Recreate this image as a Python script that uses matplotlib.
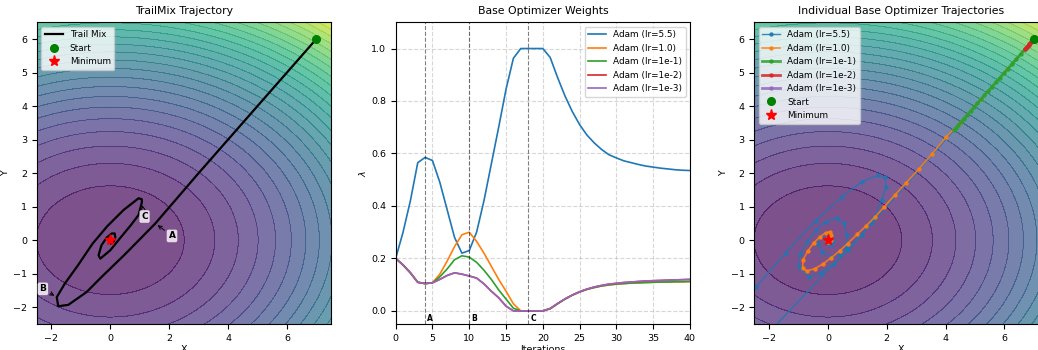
import numpy as np
import matplotlib.pyplot as plt

# objective: f(x, y) = x^2 + 2.4 y^2, minimum at the origin
coef_x, coef_y = 1.0, 2.4
start = (7.0, 6.0)
minimum = (0.0, 0.0)

# TrailMix trajectory (one point per iteration)
trail_x = [7.0, 6.2, 4.8, 3.0, 1.53, 0.5, -0.3, -0.81, -1.43, -1.77, -1.82, -1.55, -1.1, -0.6, -0.1,
           0.45, 0.96, 1.07, 1.07, 0.96, 0.7, 0.35, 0.0, -0.34, -0.4, -0.3, -0.12, 0.05, 0.15, 0.17,
           0.1, 0.02, -0.04, -0.05, -0.02, 0.01, 0.03, 0.02, 0.0, -0.01, 0.0]
trail_y = [6.0, 5.2, 3.8, 2.0, 0.5, -0.42, -1.1, -1.55, -1.93, -1.97, -1.70, -1.3, -0.75, -0.1, 0.42,
           0.9, 1.25, 1.22, 1.12, 0.75, 0.45, 0.08, -0.3, -0.55, -0.45, -0.15, 0.08, 0.2, 0.2, 0.07,
           -0.05, -0.1, -0.06, 0.0, 0.04, 0.04, 0.01, -0.02, -0.01, 0.0, 0.0]
events = {"A": 4, "B": 10, "C": 18}

# weights lambda of each base optimizer per iteration
labels = ["Adam (lr=5.5)", "Adam (lr=1.0)", "Adam (lr=1e-1)", "Adam (lr=1e-2)", "Adam (lr=1e-3)"]
w_55 = [0.2, 0.30, 0.42, 0.565, 0.585, 0.573, 0.49, 0.385, 0.28, 0.22, 0.23, 0.30, 0.42, 0.56, 0.70,
        0.845, 0.963, 1.0, 1.0, 1.0, 1.0, 0.966, 0.89, 0.82, 0.76, 0.71, 0.67, 0.64, 0.615, 0.595,
        0.583, 0.572, 0.565, 0.558, 0.552, 0.548, 0.544, 0.541, 0.538, 0.536, 0.535]
w_1 = [0.2, 0.175, 0.145, 0.109, 0.104, 0.107, 0.14, 0.19, 0.245, 0.29, 0.30, 0.265, 0.22, 0.17, 0.12,
       0.075, 0.027, 0.0, 0.0, 0.0, 0.0, 0.008, 0.027, 0.045, 0.06, 0.072, 0.082, 0.089, 0.095, 0.099,
       0.102, 0.104, 0.106, 0.107, 0.108, 0.109, 0.11, 0.11, 0.111, 0.111, 0.112]
w_1e1 = [0.2, 0.175, 0.145, 0.109, 0.104, 0.107, 0.13, 0.16, 0.195, 0.21, 0.205, 0.185, 0.155, 0.12, 0.08,
         0.045, 0.01, 0.0, 0.0, 0.0, 0.0, 0.008, 0.027, 0.045, 0.06, 0.072, 0.082, 0.089, 0.095, 0.099,
         0.102, 0.104, 0.106, 0.107, 0.108, 0.109, 0.11, 0.11, 0.111, 0.111, 0.112]
w_1e2 = [0.2, 0.175, 0.145, 0.109, 0.104, 0.107, 0.12, 0.135, 0.145, 0.14, 0.133, 0.125, 0.103, 0.075, 0.05,
         0.018, 0.0, 0.0, 0.0, 0.0, 0.0, 0.009, 0.028, 0.045, 0.06, 0.073, 0.083, 0.091, 0.097, 0.102,
         0.105, 0.108, 0.110, 0.112, 0.114, 0.115, 0.116, 0.117, 0.118, 0.119, 0.12]
w_1e3 = list(w_1e2)
weights = [w_55, w_1, w_1e1, w_1e2, w_1e3]

# individual base optimizer trajectories
b55_x = [7.0, 1.5, -4.2, -4.6, -3.5, -2.45, -1.43, -0.42, 0.48, 1.16, 1.69, 1.94, 1.98, 1.83, 1.55, 1.15,
         0.7, 0.2, -0.25, -0.64, -0.98, -0.95, -0.7, -0.4, -0.08, 0.3, 0.55, 0.65, 0.6, 0.4, 0.1, -0.2,
         -0.32, -0.25, -0.05, 0.12, 0.18, 0.1, -0.02, -0.08, -0.02]
b55_y = [6.0, 0.5, -4.8, -3.6, -2.4, -1.4, -0.37, 0.58, 1.30, 1.75, 1.93, 1.88, 1.60, 1.20, 0.65, 0.15,
         -0.3, -0.7, -0.98, -1.1, -0.8, -0.4, -0.05, 0.3, 0.55, 0.65, 0.5, 0.15, -0.2, -0.45, -0.5, -0.35,
         -0.1, 0.12, 0.22, 0.15, -0.02, -0.15, -0.12, 0.0, 0.06]
b1_x = [7.0, 6.1, 5.2, 4.5, 4.02, 3.55, 3.10, 2.67, 2.28, 1.92, 1.61, 1.29, 0.99, 0.67, 0.40, 0.12,
        -0.15, -0.45, -0.72, -0.86, -0.84, -0.68, -0.48, -0.27, -0.08, 0.06, 0.12, 0.10, 0.04, -0.02,
        -0.04, -0.02, 0.01, 0.03, 0.02, 0.0, -0.01, -0.01, 0.0, 0.01, 0.0]
b1_y = [6.0, 5.1, 4.2, 3.5, 3.08, 2.58, 2.13, 1.72, 1.35, 1.0, 0.70, 0.42, 0.17, -0.10, -0.32, -0.52,
        -0.70, -0.85, -0.92, -0.82, -0.58, -0.32, -0.08, 0.10, 0.22, 0.25, 0.15, 0.02, -0.06, -0.06,
        0.0, 0.05, 0.04, 0.0, -0.02, -0.01, 0.01, 0.01, 0.0, 0.0, 0.0]
b1e1_x = [7.0, 6.85, 6.7, 6.55, 6.4, 6.26, 6.12, 5.98, 5.84, 5.71, 5.58, 5.45, 5.32, 5.2, 5.08, 4.96,
          4.85, 4.74, 4.63, 4.53, 4.43, 4.35, 4.3]
b1e1_y = [6.0, 5.85, 5.7, 5.55, 5.4, 5.26, 5.12, 4.98, 4.84, 4.71, 4.58, 4.45, 4.32, 4.2, 4.08, 3.96,
          3.85, 3.74, 3.63, 3.53, 3.43, 3.35, 3.3]
b1e2_x = [7.0, 6.97, 6.94, 6.91, 6.88, 6.85, 6.82, 6.79, 6.76, 6.73, 6.7]
b1e2_y = [6.0, 5.97, 5.94, 5.91, 5.88, 5.85, 5.82, 5.79, 5.76, 5.73, 5.7]
b1e3_x = [7.0, 6.997, 6.994, 6.991, 6.988, 6.985, 6.982, 6.979, 6.976, 6.973, 6.97]
b1e3_y = [6.0, 5.997, 5.994, 5.991, 5.988, 5.985, 5.982, 5.979, 5.976, 5.973, 5.97]
base_paths = [(b55_x, b55_y), (b1_x, b1_y), (b1e1_x, b1e1_y), (b1e2_x, b1e2_y), (b1e3_x, b1e3_y)]

colors = ["tab:blue", "tab:orange", "tab:green", "tab:red", "tab:purple"]
path_widths = [1.0, 1.2, 2.0, 2.0, 2.0]

plt.rcParams.update({"font.size": 6.8, "axes.titlesize": 7.8, "legend.fontsize": 6.4,
                     "axes.labelpad": 2})

fig = plt.figure(figsize=(10.38, 3.5), dpi=100)
ax1 = fig.add_axes([0.0354, 0.0743, 0.2835, 0.862])
ax2 = fig.add_axes([0.3812, 0.0743, 0.2835, 0.862])
ax3 = fig.add_axes([0.7267, 0.0743, 0.2835, 0.862])

xs = np.linspace(-2.5, 7.5, 300)
ys = np.linspace(-2.5, 6.5, 300)
X, Y = np.meshgrid(xs, ys)
Z = coef_x * X ** 2 + coef_y * Y ** 2
levels = np.linspace(Z.min(), Z.max(), 26)


def draw_surface(ax):
    ax.contourf(X, Y, Z, levels=levels, cmap="viridis", vmax=Z.max() * 1.08, alpha=0.7)
    ax.contour(X, Y, Z, levels=levels, colors="k", alpha=0.06, linewidths=0.5)
    ax.set_xlim(-2.5, 7.5)
    ax.set_ylim(-2.5, 6.5)
    ax.set_xlabel("X")
    ax.set_ylabel("Y")


# Figure 1: TrailMix path
draw_surface(ax1)
ax1.plot(trail_x, trail_y, color="black", lw=1.6, label="Trail Mix")
ax1.plot(*start, "o", color="green", ms=5.5, label="Start")
ax1.plot(*minimum, "*", color="red", ms=8, label="Minimum")
offsets = {"A": (12, -9), "B": (-10, 6), "C": (2, -10)}
for name, it in events.items():
    ax1.annotate(name, xy=(trail_x[it], trail_y[it]), xytext=offsets[name], textcoords="offset points",
                 fontsize=6.5, fontweight="bold", ha="center", va="center",
                 bbox=dict(boxstyle="round,pad=0.2", fc="white", ec="none", alpha=0.8),
                 arrowprops=dict(arrowstyle="->", color="black", lw=0.7))
ax1.set_title("TrailMix Trajectory")
ax1.legend(loc="upper left")

# Figure 2: weights
iters = np.arange(len(w_55))
for w, lab, c in zip(weights, labels, colors):
    ax2.plot(iters, w, color=c, lw=1.2, label=lab)
for name, it in events.items():
    ax2.axvline(it, color="black", ls="--", lw=0.8, alpha=0.5)
    ax2.text(it + 0.3, -0.03, name, fontsize=5.5, fontweight="bold", ha="left", va="center")
ax2.set_xlim(0, 40)
ax2.set_ylim(-0.05, 1.1)
ax2.grid(True, ls="--", alpha=0.5)
ax2.set_xlabel("Iterations")
ax2.set_ylabel(r"$\lambda$")
ax2.set_title("Base Optimizer Weights")
ax2.legend(loc="upper right")

# Figure 3: each base optimizer alone
draw_surface(ax3)
for (px, py), lab, c, lw in zip(base_paths, labels, colors, path_widths):
    ax3.plot(px, py, "o-", color=c, lw=lw, ms=2.2, alpha=0.85, label=lab)
ax3.plot(*start, "o", color="green", ms=5.5, label="Start")
ax3.plot(*minimum, "*", color="red", ms=8, label="Minimum")
ax3.set_title("Individual Base Optimizer Trajectories")
ax3.legend(loc="upper left")

fig.savefig("out.png", dpi=100)
